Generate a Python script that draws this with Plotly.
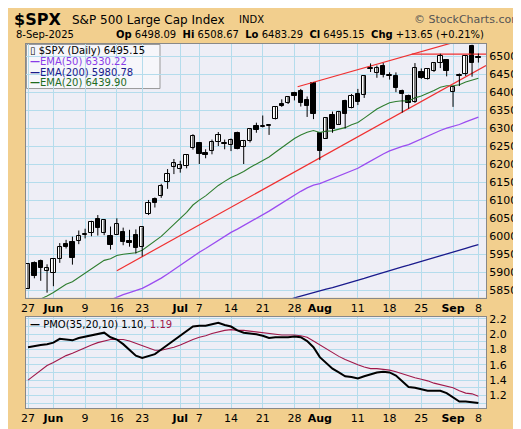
import plotly.graph_objects as go
from plotly.subplots import make_subplots

# daily bars, 27-May-2025 .. 8-Sep-2025
opens = [5854, 5925, 5931, 5903, 5897, 5938, 5979, 5985, 5987, 6004, 6010, 6049, 6010, 6000, 6004, 6012, 5987, 6003,
         5970, 6061, 6104, 6112, 6150, 6194, 6187, 6195, 6246, 6259, 6233, 6238, 6263, 6256, 6255, 6287, 6248, 6264,
         6306, 6304, 6307, 6326, 6369, 6370, 6398, 6404, 6378, 6427, 6287, 6272, 6337, 6310, 6376, 6356, 6397, 6392,
         6466, 6454, 6475, 6445, 6446, 6404, 6390, 6375, 6457, 6438, 6461, 6483, 6491, 6401, 6445, 6451, 6529, 6498.09]
highs = [5924, 5930, 5935, 5922, 5937, 5981, 5990, 5999, 6016, 6021, 6043, 6059, 6045, 6027, 6050, 6024, 6018, 6019,
         6025, 6101, 6108, 6146, 6187, 6215, 6210, 6227, 6284, 6262, 6242, 6269, 6290, 6269, 6272, 6291, 6268, 6300,
         6316, 6336, 6310, 6360, 6381, 6390, 6402, 6410, 6389, 6428, 6288, 6330, 6347, 6349, 6380, 6396, 6410, 6447,
         6481, 6475, 6482, 6456, 6456, 6408, 6394, 6482, 6467, 6467, 6482, 6508, 6493, 6416, 6453, 6502, 6533, 6508.67]
lows = [5854, 5883, 5876, 5843, 5861, 5926, 5966, 5921, 5978, 5994, 6000, 6002, 6003, 5963, 6004, 5975, 5971, 5952,
        5944, 6059, 6080, 6107, 6132, 6173, 6177, 6189, 6241, 6201, 6217, 6228, 6251, 6242, 6237, 6242, 6201, 6261,
        6288, 6303, 6282, 6325, 6360, 6368, 6378, 6361, 6332, 6326, 6212, 6272, 6288, 6310, 6300, 6356, 6365, 6385,
        6457, 6441, 6442, 6436, 6401, 6344, 6355, 6371, 6438, 6436, 6457, 6468, 6445, 6360, 6418, 6446, 6444, 6483.29]
closes = [5921.5, 5888.6, 5912.2, 5911.7, 5935.9, 5970.4, 5970.8, 5939.3, 6000.4, 6005.9, 6038.8, 6022.2, 6045.3,
          5977.0, 6033.1, 5982.7, 5980.9, 5967.8, 6025.2, 6092.2, 6092.2, 6141.0, 6173.1, 6205.0, 6198.0, 6227.4,
          6279.4, 6230.0, 6225.5, 6263.3, 6280.5, 6259.8, 6268.6, 6243.8, 6263.7, 6297.4, 6296.8, 6305.6, 6309.6,
          6358.9, 6363.4, 6388.6, 6389.8, 6370.9, 6362.9, 6339.4, 6238.0, 6329.9, 6299.2, 6345.1, 6340.0, 6389.5,
          6373.5, 6445.8, 6466.6, 6468.5, 6449.8, 6449.2, 6411.4, 6395.8, 6370.2, 6466.9, 6439.3, 6465.9, 6481.4,
          6501.9, 6460.3, 6415.5, 6448.3, 6502.1, 6481.5, 6495.15]

pmo = [1.83, 1.85, 1.86, 1.87, 1.89, 1.94, 1.93, 1.92, 1.95, 1.97, 1.99, 2.01, 2.02, 1.96, 1.93, 1.87, 1.79, 1.72,
       1.69, 1.71, 1.74, 1.80, 1.86, 1.92, 1.98, 2.04, 2.10, 2.11, 2.11, 2.13, 2.15, 2.12, 2.10, 2.05, 2.02, 2.01,
       2.00, 1.98, 1.95, 1.96, 1.96, 1.96, 1.97, 1.96, 1.91, 1.83, 1.70, 1.62, 1.55, 1.50, 1.45, 1.44, 1.42, 1.45,
       1.48, 1.50, 1.51, 1.50, 1.46, 1.39, 1.31, 1.30, 1.28, 1.26, 1.26, 1.26, 1.23, 1.17, 1.12, 1.12, 1.11, 1.10]
pmo_signal = [1.40, 1.46, 1.53, 1.59, 1.63, 1.68, 1.72, 1.75, 1.79, 1.82, 1.86, 1.89, 1.91, 1.93, 1.93, 1.93, 1.91,
              1.88, 1.85, 1.81, 1.79, 1.79, 1.81, 1.83, 1.86, 1.90, 1.93, 1.96, 1.98, 2.01, 2.03, 2.05, 2.06, 2.05,
              2.05, 2.04, 2.03, 2.02, 2.01, 2.00, 1.99, 1.99, 1.99, 1.98, 1.96, 1.91, 1.86, 1.80, 1.76, 1.71, 1.67,
              1.63, 1.60, 1.57, 1.55, 1.55, 1.54, 1.53, 1.51, 1.48, 1.45, 1.43, 1.41, 1.39, 1.36, 1.34, 1.32, 1.30,
              1.26, 1.23, 1.22, 1.19]

# ema starting values (before first bar)
ema_seeds = {20: 5797, 50: 5710, 200: 5655}

tick_pos = [0, 4, 9, 14, 18, 24, 27, 32, 37, 42, 46, 52, 57, 62, 67, 71]
tick_text = ["27", "<b>Jun</b>", "9", "16", "23", "<b>Jul</b>", "7", "14", "21", "28", "<b>Aug</b>",
             "11", "18", "25", "<b>Sep</b>", "8"]

# drawn trend lines: (bar, price)
lower_line = [(14, 5904), (72.2, 6475)]
upper_line = [(42.5, 6416), (72.2, 6565)]
flat_line = [(60.5, 6507), (72.2, 6507)]


def ema(values, n, seed):
    a = 2 / (n + 1)
    out = []
    e = seed
    for v in values:
        e = e + a * (v - e)
        out.append(e)
    return out


x = list(range(len(closes)))
FONT = "DejaVu Sans"
BG = "#F2CF8E"
GRID = "#B4DCEC"

fig = make_subplots(rows=2, cols=1, row_heights=[0.736, 0.264], vertical_spacing=0.053)

fig.add_trace(go.Scatter(x=x, y=ema(closes, 200, ema_seeds[200]), mode="lines",
                         line=dict(color="#1A1A8C", width=1.3)), 1, 1)
fig.add_trace(go.Scatter(x=x, y=ema(closes, 50, ema_seeds[50]), mode="lines",
                         line=dict(color="#9B4DF0", width=1.3)), 1, 1)
fig.add_trace(go.Scatter(x=x, y=ema(closes, 20, ema_seeds[20]), mode="lines",
                         line=dict(color="#2E7D2E", width=1.1)), 1, 1)
for ln in [lower_line, upper_line, flat_line]:
    fig.add_trace(go.Scatter(x=[p[0] for p in ln], y=[p[1] for p in ln], mode="lines",
                             line=dict(color="#F03030", width=1.2)), 1, 1)

# candles: wicks as one broken line, bodies as floating bars
wx, wy = [], []
for i in x:
    wx += [i, i, None]
    wy += [lows[i], highs[i], None]
fig.add_trace(go.Scatter(x=wx, y=wy, mode="lines", line=dict(color="black", width=1)), 1, 1)
body_lo = [min(o, c) for o, c in zip(opens, closes)]
body_h = [max(abs(c - o), 1.5) for o, c in zip(opens, closes)]
body_col = ["white" if c >= o else "black" for o, c in zip(opens, closes)]
fig.add_trace(go.Bar(x=x, y=body_h, base=body_lo, width=0.7, marker=dict(color=body_col,
                     line=dict(color="black", width=1))), 1, 1)

fig.add_trace(go.Scatter(x=x, y=pmo_signal, mode="lines", line=dict(color="#A0184A", width=1.1)), 2, 1)
fig.add_trace(go.Scatter(x=x, y=pmo, mode="lines", line=dict(color="black", width=2)), 2, 1)

axis_common = dict(showline=True, linecolor="#888888", mirror=True, gridcolor=GRID, zeroline=False,
                   tickfont=dict(family=FONT, size=11, color="black"), ticks="")
for r in (1, 2):
    fig.update_xaxes(axis_common, tickvals=tick_pos, ticktext=tick_text, range=[-0.32, 72.2], row=r, col=1)
fig.update_yaxes(axis_common, side="right", range=[5829, 6535], tickvals=list(range(5850, 6501, 50)),
                 row=1, col=1)
fig.update_yaxes(axis_common, side="right", range=[1.035, 2.225], tickvals=[1.2, 1.4, 1.6, 1.8, 2.0, 2.2],
                 ticktext=["1.2", "1.4", "1.6", "1.8", "2.0", "2.2"],
                 minor=dict(dtick=0.1, showgrid=True, gridcolor=GRID), row=2, col=1)

ann = []
def txt(xp, yp, s, size=11, color="black", anchor="left"):
    ann.append(dict(x=xp, y=yp, xref="paper", yref="paper", text=s, showarrow=False, xanchor=anchor,
                    yanchor="middle", font=dict(family=FONT, size=size, color=color)))

# header, in paper units of the plot area (18..478 x, 36..412 y)
def px(xx):
    return (xx - 18) / 460
def py(yy):
    return (412 - yy) / 376

txt(px(4), py(11), "<b>$SPX</b>", 16)
txt(px(62), py(11), "S&P 500 Large Cap Index", 12)
txt(px(229), py(11), "INDX", 10)
txt(px(516), py(11), "© StockCharts.com", 11, "#555555", "right")
txt(px(6), py(26), "8-Sep-2025", 10)
txt(px(478), py(26), "<b>Op</b> 6498.09  <b>Hi</b> 6508.67  <b>Lo</b> 6483.29  <b>Cl</b> 6495.15  "
    "<b>Chg</b> +13.65 (+0.21%)", 10, anchor="right")

legend_rows = [("▯ $SPX (Daily) 6495.15", "black"), ("<b>—</b>EMA(50) 6330.22", "#8A3CE8"),
               ("<b>—</b>EMA(200) 5980.78", "#1A1A8C"), ("<b>—</b>EMA(20) 6439.90", "#1E6B1E")]
for k, (s, c) in enumerate(legend_rows):
    txt(px(20), py(43 + 11 * k), s, 10, c)
txt(px(20), py(326), "<b>—</b> PMO(35,20,10) 1.10, <span style='color:#A0184A'>1.19</span>", 10)
fig.update_layout(annotations=ann)

fig.add_shape(type="rect", xref="paper", yref="paper", x0=px(18.5), x1=px(152), y0=py(82), y1=py(36.5),
              fillcolor="#F6F6FA", line=dict(color="#999999", width=1), layer="below")

fig.update_layout(width=521, height=429, margin=dict(l=18, r=43, t=36, b=17), showlegend=False,
                  paper_bgcolor=BG, plot_bgcolor="#EEEEF6", bargap=0)
fig.write_html("out.html")
